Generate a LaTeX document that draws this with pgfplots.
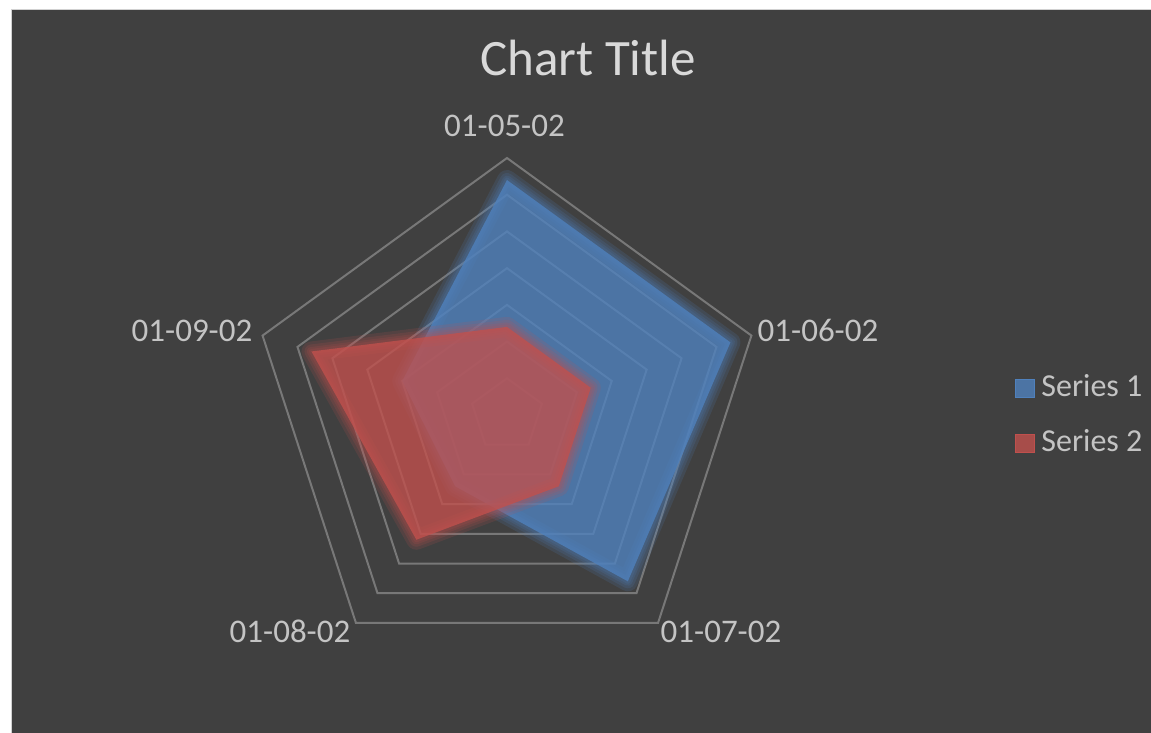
\documentclass[border=0pt]{standalone}
\usepackage{pgfplots}
\pgfplotsset{compat=1.18}
\usepgfplotslibrary{polar}
\usepackage{fontspec}
\setmainfont{Carlito}

\definecolor{bg}{HTML}{404040}
\definecolor{ring}{HTML}{787878}
\definecolor{sOne}{HTML}{4F81BD}
\definecolor{sTwo}{HTML}{C0504D}
\definecolor{titletext}{HTML}{D9D9D9}
\definecolor{labeltext}{HTML}{C4C4C4}

% glow: a few wide, faint strokes under the fill
\newcommand{\glow}[2]{%
  \addplot[draw=#1, draw opacity=0.16, line width=10pt, line join=round] coordinates {#2} -- cycle;
  \addplot[draw=#1, draw opacity=0.16, line width=7pt, line join=round] coordinates {#2} -- cycle;
  \addplot[draw=#1, draw opacity=0.16, line width=4.5pt, line join=round] coordinates {#2} -- cycle;
  \addplot[draw=#1, draw opacity=0.16, line width=2.5pt, line join=round] coordinates {#2} -- cycle;
}

\begin{document}
\begin{tikzpicture}[x=0.5pt, y=0.5pt]
% page and chart area (1 unit = 1 px of the reference, pole at 0,0)
\fill[white] (-507,-318) rectangle (644,415);
\fill[black!18] (-496,-318) rectangle (644,406);
\fill[bg] (-495,-318) rectangle (644,405);
\useasboundingbox (-507,-318) rectangle (644,415);

\begin{polaraxis}[
    at={(0,0)}, anchor=center,
    scale only axis,
    width=257pt, height=257pt,
    ymin=0, ymax=35,
    hide axis,
    clip=false,
]
% pentagon gridlines, every 5 up to 35
\pgfplotsinvokeforeach{5,10,15,20,25,30,35}{
  \addplot[ring, line width=1pt] coordinates {(90,#1) (18,#1) (-54,#1) (-126,#1) (162,#1)} -- cycle;
}

% Series 1
\glow{sOne}{(90,32) (18,32) (-54,28) (-126,12) (162,15)}
\addplot[draw=none, fill=sOne, fill opacity=0.8]
  coordinates {(90,32) (18,32) (-54,28) (-126,12) (162,15)} -- cycle;

% Series 2
\glow{sTwo}{(90,12) (18,12) (-54,12) (-126,21) (162,28)}
\addplot[draw=none, fill=sTwo, fill opacity=0.8]
  coordinates {(90,12) (18,12) (-54,12) (-126,21) (162,28)} -- cycle;
\end{polaraxis}

% title
\node[anchor=base, text=titletext, font=\fontsize{25.5}{30}\selectfont] at (81,339) {Chart Title};

% category labels
\begin{scope}[every node/.style={anchor=base, text=labeltext, font=\fontsize{16.5}{20}\selectfont, inner sep=0pt}]
\node at (-2.5,278) {01-05-02};
\node at (311,73) {01-06-02};
\node at (214,-227) {01-07-02};
\node at (-217,-227) {01-08-02};
\node at (-315,73) {01-09-02};
\end{scope}

% legend
\fill[sOne!80!bg, draw=sOne] (508,18) rectangle (527,36);
\fill[sTwo!80!bg, draw=sTwo] (508,-37) rectangle (527,-19);
\begin{scope}[every node/.style={anchor=base west, text=labeltext, font=\fontsize{16}{20}\selectfont, inner sep=0pt}]
\node at (534,18) {Series 1};
\node at (534,-37) {Series 2};
\end{scope}
\end{tikzpicture}
\end{document}
